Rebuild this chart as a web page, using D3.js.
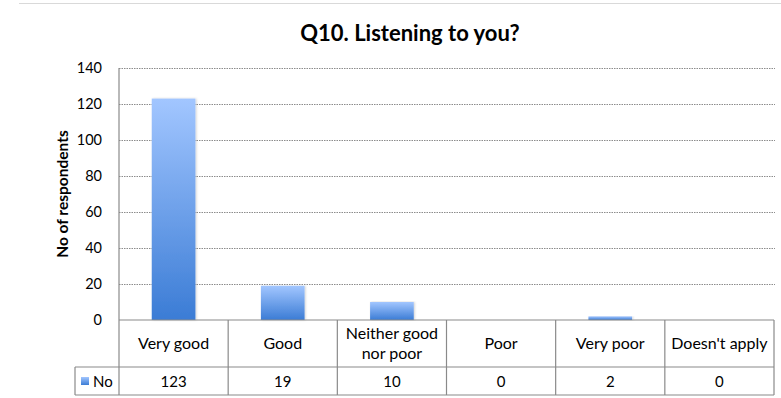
<!DOCTYPE html>
<html>
<head>
<meta charset="utf-8">
<script src="https://cdn.jsdelivr.net/npm/d3@7/dist/d3.min.js"></script>
<style>
  html, body { margin: 0; padding: 0; background: #fff; }
  svg { display: block; }
  text { font-family: Lato, "Open Sans", sans-serif; fill: #000; }
</style>
</head>
<body>
<svg id="chart" width="781" height="398"></svg>
<script>
// Survey answers for Q10
const categories = ["Very good", "Good", "Neither good nor poor", "Poor", "Very poor", "Doesn't apply"];
const categoryLines = [["Very good"], ["Good"], ["Neither good", "nor poor"], ["Poor"], ["Very poor"], ["Doesn't apply"]];
const seriesName = "No";
const values = [123, 19, 10, 0, 2, 0];
const yTicks = [0, 20, 40, 60, 80, 100, 120, 140];

const svg = d3.select("#chart");
const W = 781;

const plot = { left: 119, right: 775, top: 68, bottom: 320 };
const tableRow1 = 367, tableRow2 = 395, legendLeft = 75;

const x = d3.scaleBand().domain(categories).range([plot.left, 774]).paddingInner(0).paddingOuter(0);
const y = d3.scaleLinear().domain([0, 140]).range([plot.bottom, plot.top]);

// gradient for bars
const defs = svg.append("defs");
const grad = defs.append("linearGradient").attr("id", "barGrad")
  .attr("x1", 0).attr("y1", 0).attr("x2", 0).attr("y2", 1);
grad.append("stop").attr("offset", "0%").attr("stop-color", "#a2c6ff");
grad.append("stop").attr("offset", "100%").attr("stop-color", "#3b7cd5");
const f = defs.append("filter").attr("id", "shadow").attr("x", "-20%").attr("y", "-5%").attr("width", "140%").attr("height", "110%");
f.append("feDropShadow").attr("dx", 1).attr("dy", 0).attr("stdDeviation", 1).attr("flood-color", "#000").attr("flood-opacity", 0.18);

// top frame line
svg.append("line").attr("x1", 19).attr("x2", W).attr("y1", 3.5).attr("y2", 3.5)
  .attr("stroke", "#d9d9d9").attr("stroke-width", 1);

// title
svg.append("text").attr("x", 410).attr("y", 41).attr("text-anchor", "middle")
  .style("font-size", "22px").style("font-weight", "bold").text("Q10. Listening to you?");

// gridlines
svg.append("g").selectAll("line").data(yTicks.filter(d => d > 0)).join("line")
  .attr("x1", plot.left).attr("x2", plot.right)
  .attr("y1", d => Math.round(y(d)) + 0.5).attr("y2", d => Math.round(y(d)) + 0.5)
  .attr("stroke", "#8c8c8c").attr("stroke-width", 1).attr("stroke-dasharray", "1.5,1");

// y axis labels
const yAxis = d3.axisLeft(y).tickValues(yTicks).tickSize(0).tickPadding(17);
const gy = svg.append("g").attr("transform", `translate(${plot.left},0)`).call(yAxis);
gy.select(".domain").remove();
gy.selectAll("text").style("font-size", "14.5px").style("font-family", "Lato, 'Open Sans', sans-serif");

// y axis title
svg.append("text").attr("transform", `translate(68,194) rotate(-90)`).attr("text-anchor", "middle")
  .style("font-size", "15.5px").style("font-weight", "bold").text("No of respondents");

// bars
const bw = x.bandwidth() * 0.4;
svg.append("g").selectAll("rect").data(values).join("rect")
  .attr("x", (d, i) => x(categories[i]) + (x.bandwidth() - bw) / 2)
  .attr("width", bw)
  .attr("y", d => y(d))
  .attr("height", d => y(0) - y(d))
  .attr("fill", "url(#barGrad)")
  .attr("filter", "url(#shadow)");

// data table
const tbl = svg.append("g").attr("stroke", "#8a8a8a").attr("stroke-width", 1.2).attr("fill", "none");
// axis / table top
tbl.append("line").attr("x1", plot.left).attr("x2", 774).attr("y1", plot.bottom).attr("y2", plot.bottom);
tbl.append("line").attr("x1", legendLeft).attr("x2", 774).attr("y1", tableRow1).attr("y2", tableRow1);
tbl.append("line").attr("x1", legendLeft).attr("x2", 774).attr("y1", tableRow2).attr("y2", tableRow2);
tbl.append("line").attr("x1", legendLeft).attr("x2", legendLeft).attr("y1", tableRow1).attr("y2", tableRow2);
// left axis line
tbl.append("line").attr("x1", plot.left).attr("x2", plot.left).attr("y1", plot.top).attr("y2", tableRow2);
// column separators
tbl.selectAll(".sep").data(categories).join("line").attr("class", "sep")
  .attr("x1", d => x(d) + x.bandwidth()).attr("x2", d => x(d) + x.bandwidth())
  .attr("y1", plot.bottom).attr("y2", tableRow2);

// category labels
const cat = svg.append("g");
categoryLines.forEach((lines, i) => {
  const cx = x(categories[i]) + x.bandwidth() / 2;
  const midY = (plot.bottom + tableRow1) / 2;
  lines.forEach((ln, j) => {
    cat.append("text").attr("x", cx)
      .attr("y", midY + 5.5 + (j - (lines.length - 1) / 2) * 20)
      .attr("text-anchor", "middle").style("font-size", "16px").text(ln);
  });
});

// value row
svg.append("g").selectAll("text").data(values).join("text")
  .attr("x", (d, i) => x(categories[i]) + x.bandwidth() / 2)
  .attr("y", (tableRow1 + tableRow2) / 2 + 5.5)
  .attr("text-anchor", "middle").style("font-size", "15px").text(d => d);

// legend key
svg.append("rect").attr("x", 81).attr("y", 377).attr("width", 8).attr("height", 8).attr("fill", "url(#barGrad)");
svg.append("text").attr("x", 93).attr("y", (tableRow1 + tableRow2) / 2 + 5.5)
  .style("font-size", "15px").text(seriesName);
</script>
</body>
</html>
